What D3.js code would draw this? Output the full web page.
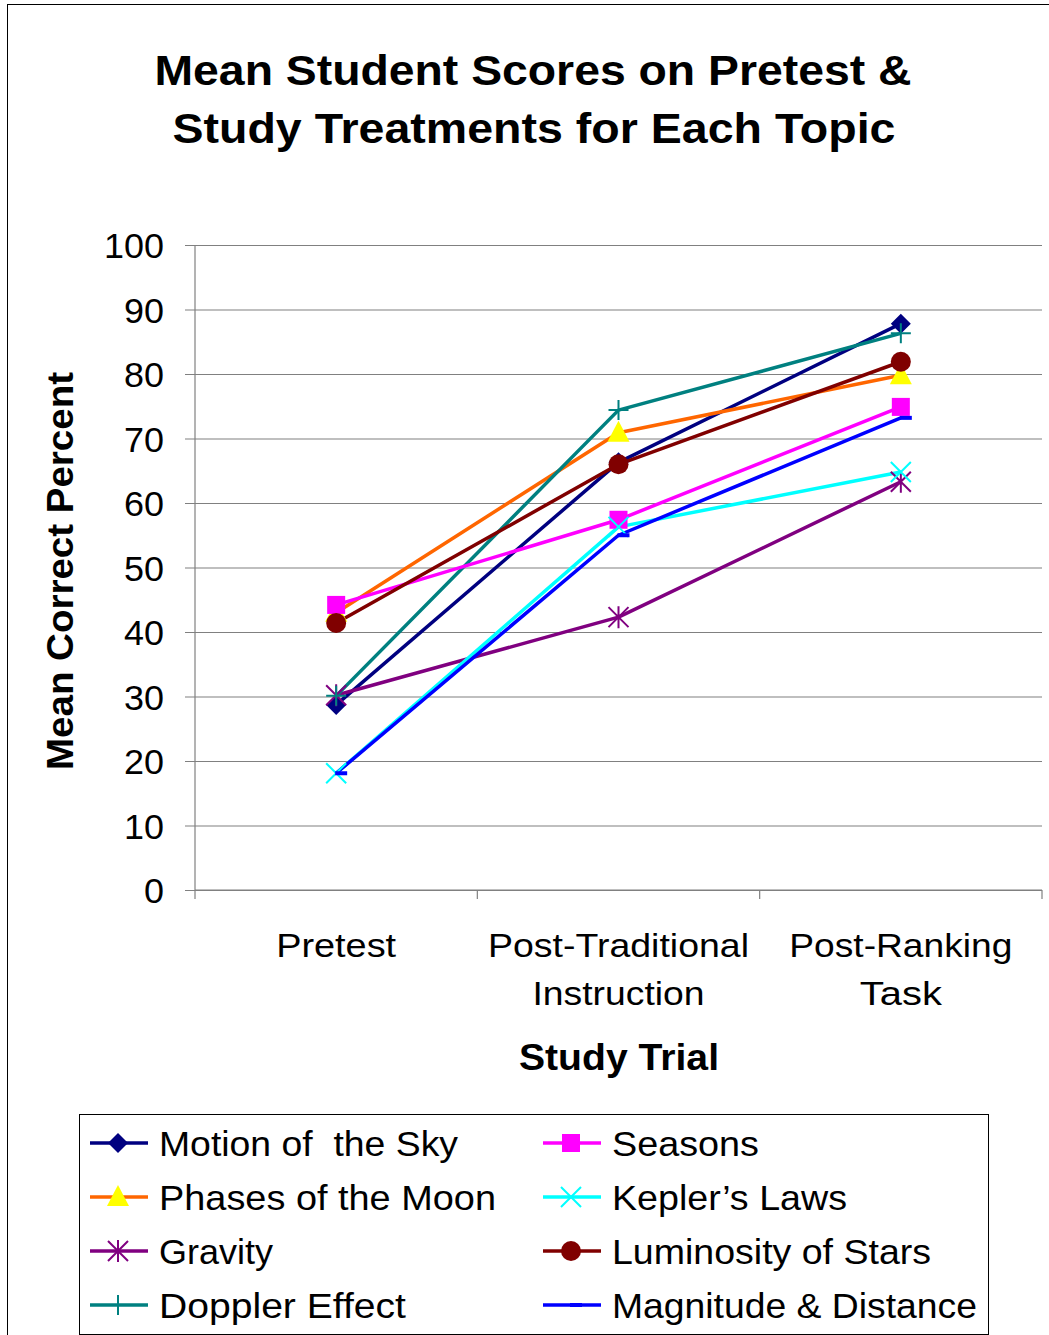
<!DOCTYPE html>
<html>
<head>
<meta charset="utf-8">
<script src="https://cdn.jsdelivr.net/npm/d3@7"></script>
<style>
  html, body { margin: 0; padding: 0; background: #fff; }
  svg { display: block; font-family: "Liberation Sans", Arial, sans-serif; }
</style>
</head>
<body>
<svg id="chart" width="1049" height="1335"></svg>
<script>
// Study trials along the x axis (each label may wrap to two lines)
const trials = ["Pretest", "Post-Traditional Instruction", "Post-Ranking Task"];
const trialLines = [["Pretest"], ["Post-Traditional", "Instruction"], ["Post-Ranking", "Task"]];
const yTicks = [0, 10, 20, 30, 40, 50, 60, 70, 80, 90, 100];

// Mean correct percent per topic (Pretest, Post-Traditional, Post-Ranking)
const motionOfSky     = [28.7, 66.3, 87.8];
const phasesOfMoon    = [43.0, 70.9, 79.8];
const gravity         = [30.2, 42.3, 63.3];
const dopplerEffect   = [30.1, 74.4, 86.3];
const seasons         = [44.2, 57.4, 74.9];
const keplersLaws     = [18.1, 56.3, 64.8];
const luminosity      = [41.4, 66.0, 81.9];
const magnitudeDist   = [18.1, 55.0, 73.2];

const series = [
  { name: "Motion of  the Sky",   values: motionOfSky,   line: "#000080", fill: "#000080", marker: "diamond" },
  { name: "Phases of the Moon",   values: phasesOfMoon,  line: "#FF6600", fill: "#FFFF00", marker: "triangle" },
  { name: "Gravity",              values: gravity,       line: "#800080", fill: "#800080", marker: "asterisk" },
  { name: "Doppler Effect",       values: dopplerEffect, line: "#008080", fill: "#008080", marker: "plus" },
  { name: "Seasons",              values: seasons,       line: "#FF00FF", fill: "#FF00FF", marker: "square" },
  { name: "Kepler\u2019s Laws",   values: keplersLaws,   line: "#00FFFF", fill: "#00FFFF", marker: "cross" },
  { name: "Luminosity of Stars",  values: luminosity,    line: "#800000", fill: "#800000", marker: "circle" },
  { name: "Magnitude & Distance", values: magnitudeDist, line: "#0000FF", fill: "#0000FF", marker: "dash" }
];

// Rendered text widths (the chart font sets type a little wide)
const legendWidths = [299, 337, 114, 247, 147, 235, 319, 365];
const trialWidths = [[120], [261, 172], [223, 82]];

const svg = d3.select("#chart");

// Helper: text stretched to a set width
function fitText(sel, w) {
  return sel.attr("textLength", w).attr("lengthAdjust", "spacingAndGlyphs");
}

// Outer chart frame
svg.append("rect").attr("x", 7.5).attr("y", 4.5).attr("width", 1060).attr("height", 1360)
  .attr("fill", "#fff").attr("stroke", "#000").attr("stroke-width", 1);

// Title
fitText(svg.append("text").attr("x", 533).attr("y", 85).attr("text-anchor", "middle")
  .attr("font-weight", "bold").attr("font-size", 42).text("Mean Student Scores on Pretest &"), 757);
fitText(svg.append("text").attr("x", 534).attr("y", 143).attr("text-anchor", "middle")
  .attr("font-weight", "bold").attr("font-size", 42).text("Study Treatments for Each Topic"), 723);

// Plot geometry
const plot = { left: 195, right: 1042, top: 245, bottom: 890 };

const x = d3.scaleBand().domain(trials).range([plot.left, plot.right]).padding(0);
const y = d3.scaleLinear().domain([0, 100]).range([plot.bottom, plot.top]);
const cx = t => x(t) + x.bandwidth() / 2;

// Horizontal gridlines with left tick marks
const yAxis = d3.axisLeft(y).tickValues(yTicks).tickSize(-(plot.right - plot.left))
  .tickFormat(d3.format("d"));
const gy = svg.append("g").attr("transform", `translate(${plot.left},0)`).call(yAxis);
gy.select(".domain").remove();
gy.selectAll(".tick line").attr("stroke", "#808080").attr("stroke-width", 1.2).attr("x1", -10);
gy.selectAll(".tick text").attr("font-size", 35).attr("fill", "#000")
  .attr("font-family", "Liberation Sans, Arial, sans-serif").attr("dy", "0.36em").attr("x", -31)
  .attr("textLength", d => String(d).length * 20).attr("lengthAdjust", "spacingAndGlyphs");

// Vertical axis line
svg.append("line").attr("x1", plot.left).attr("x2", plot.left).attr("y1", plot.top).attr("y2", plot.bottom)
  .attr("stroke", "#808080").attr("stroke-width", 1.2);

// Category axis with ticks on band boundaries
const boundaries = trials.map(t => x(t)).concat([plot.right]);
svg.append("line").attr("x1", plot.left).attr("x2", plot.right).attr("y1", plot.bottom).attr("y2", plot.bottom)
  .attr("stroke", "#808080").attr("stroke-width", 1.2);
svg.selectAll(".xtick").data(boundaries).join("line").attr("class", "xtick")
  .attr("x1", d => d).attr("x2", d => d).attr("y1", plot.bottom).attr("y2", plot.bottom + 9)
  .attr("stroke", "#808080").attr("stroke-width", 1.2);

// Category labels
trials.forEach((t, i) => {
  trialLines[i].forEach((ln, j) => {
    fitText(svg.append("text").attr("x", cx(t)).attr("y", 957 + j * 48).attr("text-anchor", "middle")
      .attr("font-size", 34).attr("fill", "#000").text(ln), trialWidths[i][j]);
  });
});

// Axis titles
fitText(svg.append("text").attr("x", 619).attr("y", 1070).attr("text-anchor", "middle")
  .attr("font-weight", "bold").attr("font-size", 36).text("Study Trial"), 200);
fitText(svg.append("text").attr("transform", "translate(73,571) rotate(-90)").attr("text-anchor", "middle")
  .attr("font-weight", "bold").attr("font-size", 36).text("Mean Correct Percent"), 398);

// Marker drawing
function drawMarker(g, type, fill) {
  switch (type) {
    case "diamond":
      g.append("path").attr("d", "M0,-10L10,0L0,10L-10,0Z").attr("fill", fill); break;
    case "square":
      g.append("rect").attr("x", -9).attr("y", -9).attr("width", 18).attr("height", 18).attr("fill", fill); break;
    case "triangle":
      g.append("path").attr("d", "M0,-12L11,9L-11,9Z").attr("fill", fill); break;
    case "circle":
      g.append("circle").attr("r", 10).attr("fill", fill); break;
    case "plus":
      g.append("path").attr("d", "M-10,0H10M0,-10V10").attr("stroke", fill).attr("stroke-width", 2); break;
    case "cross":
      g.append("path").attr("d", "M-10,-10L10,10M-10,10L10,-10").attr("stroke", fill).attr("stroke-width", 2); break;
    case "asterisk":
      g.append("path").attr("d", "M-10,-10L10,10M-10,10L10,-10M0,-11V11").attr("stroke", fill).attr("stroke-width", 2); break;
    case "dash":
      g.append("path").attr("d", "M-1,0H11").attr("stroke", fill).attr("stroke-width", 4); break;
  }
}

// Series lines and markers
const line = d3.line().x((d, i) => cx(trials[i])).y(d => y(d));
const sg = svg.append("g");
series.forEach(s => {
  sg.append("path").datum(s.values).attr("d", line).attr("fill", "none")
    .attr("stroke", s.line).attr("stroke-width", 3.5).attr("stroke-linejoin", "round");
});
series.forEach(s => {
  s.values.forEach((v, i) => {
    const g = sg.append("g").attr("transform", `translate(${cx(trials[i])},${y(v)})`);
    drawMarker(g, s.marker, s.fill);
  });
});

// Legend
const legend = svg.append("g");
legend.append("rect").attr("x", 79.5).attr("y", 1114.5).attr("width", 909).attr("height", 220)
  .attr("fill", "#fff").attr("stroke", "#000").attr("stroke-width", 1);
series.forEach((s, i) => {
  const col = Math.floor(i / 4), row = i % 4;
  const lx = col === 0 ? 90 : 543;
  const ly = 1143 + row * 54;
  const g = legend.append("g");
  g.append("line").attr("x1", lx).attr("x2", lx + 58).attr("y1", ly).attr("y2", ly)
    .attr("stroke", s.line).attr("stroke-width", 3.5);
  drawMarker(g.append("g").attr("transform", `translate(${lx + 28},${ly})`), s.marker, s.fill);
  fitText(g.append("text").attr("x", lx + 69).attr("y", ly).attr("dy", "0.36em")
    .attr("font-size", 35).attr("fill", "#000").style("white-space", "pre").text(s.name), legendWidths[i]);
});
</script>
</body>
</html>
